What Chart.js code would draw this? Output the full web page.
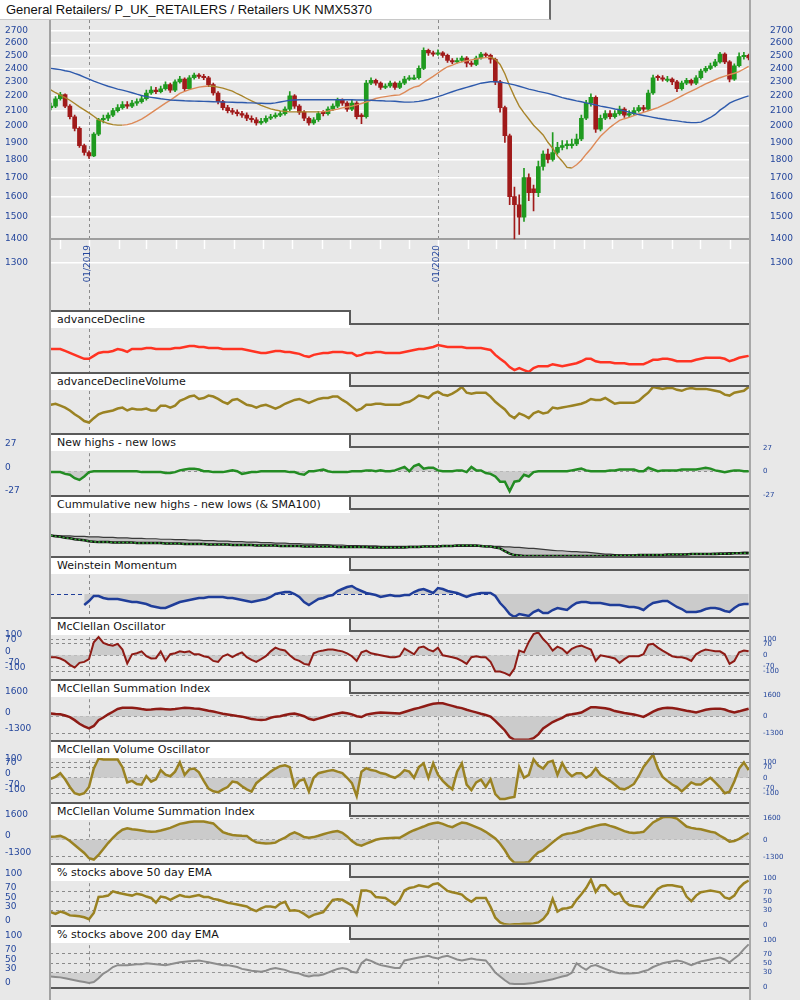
<!DOCTYPE html>
<html>
<head>
<meta charset="utf-8">
<script src="https://cdn.jsdelivr.net/npm/chart.js@4.4.1/dist/chart.umd.min.js"></script>
<style>
  html,body{margin:0;padding:0;}
  body{width:800px;height:1000px;background:#e8e8e8;position:relative;overflow:hidden;font-family:'DejaVu Sans',sans-serif;}
  canvas{position:absolute;left:0;}
  #title{position:absolute;left:0;top:0;width:551px;height:20px;background:#fff;border-right:2px solid #6a6a6a;border-bottom:1px solid #c8c8c8;font:13px 'Liberation Sans',Arial,sans-serif;line-height:20px;padding-left:6px;box-sizing:border-box;color:#111;white-space:nowrap;}
  .ptitle{position:absolute;left:50px;width:300px;height:17px;background:#fff;font:11px 'DejaVu Sans',sans-serif;line-height:18px;padding-left:7px;box-sizing:border-box;color:#151515;white-space:nowrap;}
  .ln{position:absolute;background:#5a5a5a;}
</style>
</head>
<body>
<div id="root"></div>
<script>
// ---------------- DATA ----------------
// samples every 5 calendar days, starting 2018-11-21 (day -41 relative to 2019-01-01)
const SERIES_START_DAY = -41;
const SERIES_STEP_DAYS = 5;
const X_MIN = -41.8, X_MAX = 690.4;   // 2018-11-20 .. 2020-11-21

const candleOpen = [
2120,2130,2180,2210,2130,2060,1985,1880,1840,1820,
1950,2040,2050,2070,2100,2120,2140,2130,2150,2160,
2180,2220,2240,2230,2250,2280,2240,2300,2320,2250,
2330,2350,2340,2330,2280,2220,2160,2120,2100,2090,
2080,2070,2050,2040,2020,2030,2050,2060,2070,2080,
2110,2200,2130,2090,2050,2020,2040,2090,2080,2110,
2130,2170,2150,2110,2150,2070,2060,2290,2310,2290,
2260,2270,2290,2260,2290,2320,2320,2330,2400,2540,
2520,2510,2520,2500,2460,2450,2460,2480,2440,2430,
2480,2510,2500,2470,2300,2120,1940,1600,1560,1500,
1700,1640,1620,1760,1830,1800,1840,1870,1880,1880,
1890,1920,2050,2150,2190,1980,2050,2080,2060,2080,
2110,2070,2080,2100,2120,2110,2220,2340,2330,2310,
2320,2300,2250,2290,2310,2290,2330,2380,2400,2420,
2450,2510,2450,2320,2420,2490,2500];
const candleHigh = [
2150,2195,2225,2215,2140,2070,1995,1890,1850,1960,
2050,2070,2085,2115,2140,2160,2160,2170,2180,2200,
2240,2265,2260,2270,2300,2290,2315,2340,2330,2345,
2365,2360,2355,2340,2290,2230,2170,2135,2115,2105,
2095,2085,2065,2055,2050,2065,2075,2085,2095,2125,
2230,2210,2140,2100,2060,2055,2095,2100,2125,2145,
2185,2180,2160,2170,2160,2080,2310,2330,2320,2300,
2285,2305,2300,2305,2340,2345,2350,2420,2560,2550,
2535,2545,2530,2510,2475,2480,2495,2490,2455,2495,
2525,2520,2510,2480,2310,2130,1950,1650,1610,1750,
1720,1660,1790,1850,1860,1960,1900,1910,1910,1920,
1950,2070,2170,2215,2200,2070,2100,2100,2100,2130,
2120,2100,2120,2135,2135,2240,2350,2350,2345,2340,
2330,2310,2305,2325,2320,2345,2395,2415,2440,2470,
2525,2520,2460,2435,2520,2525,2510];
const candleLow = [
2105,2120,2170,2120,2045,1970,1870,1825,1805,1815,
1940,2020,2035,2060,2090,2110,2115,2120,2135,2150,
2170,2210,2215,2220,2240,2225,2230,2290,2235,2245,
2320,2325,2315,2265,2205,2145,2105,2085,2075,2065,
2055,2035,2025,2005,2010,2020,2040,2050,2060,2070,
2100,2115,2075,2035,2005,2010,2030,2065,2070,2100,
2120,2135,2095,2100,2045,2015,2050,2280,2275,2245,
2250,2260,2245,2250,2280,2310,2315,2320,2390,2500,
2495,2500,2485,2445,2435,2440,2450,2410,2415,2420,
2470,2485,2440,2280,2090,1900,1560,1400,1420,1480,
1580,1530,1600,1740,1780,1790,1830,1855,1860,1865,
1880,1910,2040,2130,1960,1970,2040,2045,2050,2070,
2055,2060,2070,2090,2095,2100,2210,2310,2305,2300,
2280,2230,2240,2280,2275,2280,2320,2370,2390,2410,
2440,2435,2300,2310,2410,2470,2465];
const candleClose = [
2130,2180,2210,2130,2060,1985,1880,1840,1820,1950,
2040,2050,2070,2100,2120,2140,2130,2150,2160,2180,
2220,2240,2230,2250,2280,2240,2300,2320,2250,2330,
2350,2340,2330,2280,2220,2160,2120,2100,2090,2080,
2070,2050,2040,2020,2030,2050,2060,2070,2080,2110,
2200,2130,2090,2050,2020,2040,2080,2080,2110,2130,
2170,2150,2110,2150,2060,2060,2290,2310,2290,2260,
2270,2290,2260,2290,2320,2330,2330,2400,2540,2520,
2510,2520,2500,2460,2450,2460,2480,2440,2430,2480,
2510,2500,2470,2300,2120,1940,1600,1560,1500,1700,
1620,1620,1760,1830,1800,1840,1870,1880,1890,1890,
1920,2050,2150,2190,1980,2050,2080,2060,2080,2110,
2070,2080,2100,2120,2110,2220,2330,2330,2320,2320,
2300,2250,2290,2310,2290,2330,2380,2400,2420,2450,
2510,2450,2320,2420,2490,2500,2480];
const ma50 = [
2242,2222,2205,2188,2170,2148,2125,2105,2085,2063,
2040,2028,2016,2009,2006,2006,2009,2017,2030,2045,
2064,2085,2107,2128,2150,2170,2193,2217,2231,2244,
2253,2262,2266,2270,2268,2262,2255,2244,2234,2215,
2200,2182,2165,2150,2135,2123,2112,2104,2098,2095,
2092,2092,2092,2092,2092,2092,2092,2093,2097,2104,
2110,2118,2124,2130,2138,2148,2158,2170,2182,2190,
2195,2200,2204,2207,2225,2245,2262,2270,2295,2318,
2340,2365,2390,2412,2425,2440,2450,2458,2465,2472,
2479,2483,2486,2470,2430,2360,2270,2195,2130,2085,
2045,2005,1975,1945,1900,1865,1820,1790,1755,1752,
1770,1795,1830,1862,1900,1937,1965,1992,2015,2036,
2047,2056,2067,2078,2088,2099,2109,2120,2135,2150,
2165,2182,2200,2218,2233,2250,2268,2285,2300,2315,
2330,2342,2353,2363,2375,2395,2415];
const ma200 = [
2400,2395,2390,2382,2375,2362,2350,2335,2320,2305,
2292,2280,2268,2258,2248,2240,2232,2222,2212,2203,
2195,2190,2185,2180,2176,2172,2170,2168,2166,2165,
2164,2163,2162,2161,2160,2159,2158,2157,2156,2155,
2155,2153,2152,2150,2149,2148,2148,2152,2158,2164,
2170,2172,2173,2173,2173,2173,2173,2173,2173,2173,
2173,2173,2173,2173,2172,2172,2171,2170,2168,2167,
2165,2164,2163,2160,2157,2157,2159,2162,2168,2175,
2185,2195,2205,2218,2229,2240,2250,2260,2270,2280,
2290,2295,2300,2300,2298,2292,2285,2278,2268,2258,
2248,2240,2232,2225,2218,2208,2198,2188,2180,2173,
2166,2160,2152,2145,2138,2130,2124,2118,2111,2105,
2098,2090,2082,2074,2068,2062,2056,2050,2045,2040,
2036,2033,2028,2024,2022,2022,2025,2040,2055,2075,
2103,2125,2150,2165,2178,2190,2200];

const advanceDecline = [
49,49,49,45,41,37,33,29,29,35, 41,43,43,45,49,47,43,49,49,49,
51,51,49,49,49,49,51,51,53,55, 55,53,53,51,51,51,49,49,49,49,
49,47,45,43,41,41,43,45,45,43, 43,41,39,35,33,37,39,41,41,43,
43,43,41,41,35,37,41,41,43,43, 41,41,41,41,43,45,47,49,49,51,
53,57,55,53,53,53,53,51,51,51, 51,49,47,37,29,22,12,6,10,6,
2,10,14,14,14,18,16,14,16,18, 20,24,29,29,24,22,22,22,20,20,
20,18,18,18,18,22,27,27,29,29, 27,24,24,24,24,27,29,31,31,31,
31,29,24,27,31,33,35];
const advanceDeclineVolume = [
61,63,59,55,49,41,35,27,24,33, 41,45,47,49,53,55,49,53,51,51,
53,49,49,59,59,55,59,69,73,78, 80,73,75,80,78,73,67,63,71,73,
67,61,59,55,59,61,57,53,57,63, 67,71,73,69,65,69,73,75,75,78,
78,71,65,57,49,53,61,61,63,63, 61,61,61,61,65,67,73,80,78,75,
84,88,82,80,84,90,98,86,84,86, 86,86,78,67,59,51,39,33,43,39,
33,43,47,43,45,55,53,55,57,59, 61,63,67,73,71,71,75,69,63,65,
65,65,65,69,78,86,98,96,94,96, 96,92,90,94,96,94,94,94,92,90,
88,82,80,86,88,90,98];
const newHighsLows = [
-1,-1,-1,-3,-4,-8,-10,-6,-1,0, 0,0,0,0,0,0,0,0,0,-1,
-1,-1,-1,-1,-2,-2,-1,1,2,3, 3,2,0,0,-1,-1,-1,0,1,0,
-3,-2,-1,-1,0,0,0,0,0,0, -1,-1,-3,-4,0,0,1,2,0,-1,
-1,-1,-1,0,0,0,1,1,0,1, 0,0,1,3,5,0,6,8,3,4,
4,1,0,0,0,1,1,-1,5,1, 1,-2,-3,-6,-12,-12,-23,-12,-11,-4,
-6,-1,0,0,0,0,0,0,0,1, 2,3,1,0,0,0,0,1,1,2,
2,2,2,0,0,4,2,0,1,1, 1,1,2,2,2,2,3,4,3,1,
0,-1,0,1,1,0,0];
const cumNewHighsLows = [
45,43,42,40,39,37,36,35,33,32, 31,31,31,30,30,30,30,30,29,29,
29,29,29,29,28,28,28,28,27,27, 27,27,27,26,26,26,26,26,25,25,
25,25,25,24,24,24,24,24,23,23, 23,23,23,22,22,22,22,22,22,22,
21,21,21,21,21,21,21,20,20,20, 20,20,20,20,20,21,21,21,22,22,
22,22,23,23,23,24,24,24,24,24, 23,22,22,20,18,12,7,4,3,2,
2,2,2,2,2,2,2,2,2,2, 2,2,2,2,2,2,2,2,3,3,
3,3,3,4,4,4,4,4,4,5, 5,5,5,5,6,6,6,6,6,6,
7,7,7,8,8,8,8];
const cumNewHighsLowsSma100 = [
45,45,44,44,44,43,43,43,42,42, 42,41,41,41,40,40,40,39,39,39,
38,38,38,37,37,37,36,36,36,35, 35,35,34,34,34,33,33,33,32,32,
32,31,31,31,30,30,30,29,29,29, 28,28,28,27,27,27,26,26,26,25,
25,25,24,24,24,23,23,23,23,22, 22,22,22,22,22,22,22,22,22,22,
22,22,22,22,22,22,22,22,22,22, 22,22,22,22,22,21,21,20,20,19,
18,18,17,16,15,14,13,13,12,11, 11,10,10,9,8,7,6,6,5,4,
4,4,4,4,4,4,4,4,4,5, 5,5,5,6,6,6,7,7,7,8,
8,8,9,9,9,10,10];
const weinsteinMomentum = [
null,null,null,null,null,null,null,-11,-7,-2, -2,-4,-5,-5,-5,-6,-7,-8,-8,-9,
-10,-12,-13,-14,-14,-12,-10,-8,-7,-6, -5,-4,-4,-3,-3,-3,-3,-4,-4,-5,
-6,-7,-8,-7,-6,-5,-3,0,1,2, 2,0,-3,-8,-11,-8,-5,-4,-2,-1,
3,5,7,8,5,3,1,0,-1,-3, -2,-1,-2,-2,-1,-1,2,4,5,3,
1,6,5,3,2,1,-1,-3,-1,0, 1,1,1,-2,-9,-14,-20,-23,-20,-21,
-22,-18,-16,-19,-19,-16,-14,-15,-16,-12, -9,-8,-8,-9,-9,-9,-10,-11,-11,-11,
-12,-13,-13,-14,-16,-12,-9,-8,-7,-7, -10,-13,-15,-18,-18,-18,-17,-15,-14,-14,
-15,-17,-18,-14,-11,-10,-10];
const mcClellanOsc = [
-12,-12,-20,-35,-59,-76,-47,-41,-24,80, 112,76,65,59,70,35,-50,6,12,24,
-6,-20,-18,24,-35,6,12,24,18,24, 6,6,-6,-12,-35,-41,-6,6,-12,6,
18,-12,-29,-41,-24,-6,24,47,35,29, 0,-24,-35,-53,-59,12,24,29,35,35,
29,24,12,-6,-35,18,29,12,6,0, -6,-12,-12,-6,41,24,6,47,53,35,
24,47,0,-6,-12,-20,-35,-53,-12,-6, -12,-12,-41,-100,-100,-110,-124,-82,29,18,
82,130,141,100,70,29,53,40,12,40, 53,59,47,35,-35,0,-6,-12,-20,-47,
-24,-6,-6,-6,6,65,70,47,29,12, -6,-12,-12,-20,-35,6,24,35,30,24,
24,6,-53,-35,18,29,24];
const mcClellanSum = [
220,180,150,60,-70,-300,-580,-780,-940,-750, -300,-100,150,350,560,650,660,655,620,560,
509,530,560,582,550,520,560,610,650,640, 600,582,500,420,364,280,200,140,80,20,
-30,-120,-220,-260,-290,-260,-120,-30,0,100, 180,218,120,0,-200,-280,-180,-73,40,145,
220,291,230,145,0,-60,130,200,260,291, 280,260,240,218,330,450,560,650,760,870,
960,1010,1000,900,800,700,630,500,400,300, 190,100,-20,-350,-727,-1100,-1600,-1820,-1820,-1820,
-1820,-1700,-1400,-950,-700,-450,-280,-120,100,150, 220,290,500,700,690,660,620,540,400,330,
260,200,140,50,-50,150,360,520,620,650, 640,580,510,430,360,300,400,500,560,590,
590,520,380,300,380,480,580];
const mcClellanVolOsc = [
-6,6,30,-10,-60,-100,-110,-100,-60,60, 125,119,119,119,119,69,-30,-20,-40,-45,
10,-25,-10,50,20,10,40,100,19,55, 60,35,-20,-70,-88,-94,-75,-60,-25,-30,
-55,-75,-90,-35,-10,15,40,60,75,81, 69,-62,-20,-10,-88,0,30,38,45,50,
40,31,0,-35,-119,40,62,50,45,31, 25,10,0,19,50,40,0,70,94,0,
94,20,-20,-50,-75,40,94,-44,-80,-30, -12,-60,-10,-106,-138,-138,-130,-125,69,0,
19,120,80,60,100,110,19,95,40,10, 30,30,0,20,62,20,0,-20,-44,-70,
-75,-60,-40,10,70,110,150,62,6,-20, -44,-60,-88,-60,-30,-44,-44,-20,0,-30,
-62,-100,-90,-25,60,100,50];
const mcClellanVolSum = [
218,250,291,150,-100,-400,-700,-1000,-1400,-1500, -1150,-700,-250,150,500,760,873,800,750,700,
640,600,620,700,800,900,1050,1200,1270,1340, 1382,1382,1380,1300,1236,900,582,450,364,330,
300,291,0,-200,-250,-291,-260,-220,0,150, 400,560,400,200,160,200,300,420,520,600,
655,530,250,-100,-350,-450,-300,-150,0,80, 110,130,145,145,350,550,720,860,1000,1150,
1250,1300,1200,1050,950,1150,1300,1250,1100,950, 800,600,350,100,-300,-800,-1400,-1745,-1745,-1745,
-1700,-1300,-950,-800,-500,-200,100,350,450,500, 582,700,850,945,1050,1140,1164,1050,945,800,
650,550,509,540,600,950,1309,1500,1700,1745, 1700,1600,1300,1000,900,830,800,700,600,540,
300,100,-145,-100,73,300,509];
const pctAbove50Ema = [
27,23,28,25,20,19,18,16,12,25, 59,60,62,71,68,66,64,62,66,64,
60,57,47,60,58,53,58,63,60,59, 61,63,59,59,55,53,50,47,45,43,
41,39,33,29,35,39,39,37,45,49, 30,31,29,23,16,21,24,27,40,53,
54,53,47,41,22,73,73,70,59,58, 57,50,43,53,73,78,80,84,82,80,
86,88,80,72,69,67,64,55,49,57, 57,57,38,15,5,1,0,1,1,2,
2,3,5,12,25,55,28,34,35,38, 53,65,78,96,70,84,84,72,64,68,
50,42,40,39,37,50,63,76,82,84, 84,82,80,60,50,62,69,71,73,71,
69,58,55,62,78,88,94];
const pctAbove200Ema = [
22,21,20,18,16,14,12,10,8,10, 18,28,34,42,46,46,46,47,48,48,
50,49,48,47,46,48,50,52,53,54, 55,56,54,52,50,48,46,46,44,42,
38,36,34,33,32,34,38,40,38,36, 32,30,28,24,22,24,24,26,30,34,
38,40,38,32,30,50,58,55,50,46, 44,42,40,40,56,58,60,62,64,66,
62,60,64,66,62,58,56,58,60,58, 57,56,44,30,22,14,7,6,6,6,
7,8,10,12,14,16,19,22,24,30, 50,42,36,44,46,42,38,34,31,29,
28,28,29,30,33,36,42,46,50,52, 54,56,54,50,46,50,54,56,58,60,
62,58,52,60,68,80,90];

// tick values / labels
const priceTicks = [1300,1400,1500,1600,1700,1800,1900,2000,2100,2200,2300,2400,2500,2600,2700];
const monthTickDays = [-31,0,31,59,90,120,151,181,212,243,273,304,334,365,396,425,456,486,517,547,578,609,639,670];
const monthTickLabels = ['','01/2019','','','','','','','','','','','','01/2020','','','','','','','','','',''];
const nhnlTicks = [-27,0,27];
const oscTicks = [-100,-70,0,70,100];
const sumTicks = [-1300,0,1600];
const pctTicks = [0,30,50,70,100];

// ---------------- STYLE / LAYOUT ----------------
const LABEL = '#24469c';
const FILL = '#cbcbcb';
const OLIVE = '#9a8222';
const DARKRED = '#8e1b15';
const PANEL_TOPS = [311,373,434,496,557,618,680,741,803,864,926];
const LAST_BOTTOM = 988;
const JAN_DAYS = monthTickDays.filter((d, i) => monthTickLabels[i] !== '');

const root = document.getElementById('root');
const days = candleClose.map((_, i) => SERIES_START_DAY + i * SERIES_STEP_DAYS);
const xy = arr => arr.map((v, i) => ({x: days[i], y: v}));
const font9 = {family: 'DejaVu Sans', size: 9};

// ---------------- MAIN PRICE CHART ----------------
(function () {
  const cv = document.createElement('canvas');
  cv.width = 800; cv.height = 329; cv.style.top = '0px';
  root.appendChild(cv);
  const UP = '#1f9a1f', DOWN = '#a01a1a';
  const colors = candleClose.map((c, i) => c >= candleOpen[i] ? UP : DOWN);
  const yCommon = {type: 'logarithmic', min: 1113, max: 2796, bounds: 'data',
    afterBuildTicks: s => { s.ticks = priceTicks.map(v => ({value: v})); }};
  new Chart(cv, {
    type: 'bar',
    data: {datasets: [
      {type: 'line', data: xy(ma200), borderColor: '#2e5aac', borderWidth: 1.4, pointRadius: 0, order: 0},
      {type: 'line', data: xy(ma50), borderColor: '#a8842a', borderWidth: 1.4, pointRadius: 0, order: 0,
        segment: {borderColor: s => s.p1.parsed.y > s.p0.parsed.y ? '#dd8a58' : '#a8842a'}},
      {data: candleLow.map((l, i) => ({x: days[i], y: [l, candleHigh[i]]})), backgroundColor: colors,
        barThickness: 1, grouped: false, order: 2},
      {data: candleOpen.map((o, i) => ({x: days[i], y: [o, candleClose[i]]})), backgroundColor: colors,
        barThickness: 4, minBarLength: 1, grouped: false, order: 1}
    ]},
    options: {
      responsive: false, animation: false, events: [],
      layout: {padding: {left: 5, right: 0, top: 20, bottom: 8}},
      plugins: {legend: {display: false}, tooltip: {enabled: false}},
      scales: {
        x: {type: 'linear', min: X_MIN, max: X_MAX, bounds: 'data', offset: false, position: {y: 1400},
          afterBuildTicks: s => { s.ticks = monthTickDays.map(v => ({value: v})); },
          ticks: {autoSkip: false, maxRotation: 90, minRotation: 90, padding: -4, labelOffset: -2,
            color: LABEL, font: font9, callback: (v, i) => monthTickLabels[i]},
          grid: {offset: false, drawOnChartArea: true, drawTicks: true, tickLength: 10, tickWidth: 1.5,
            tickColor: '#ffffff', lineWidth: 1,
            color: c => (c.tick && JAN_DAYS.includes(c.tick.value)) ? '#8a8a8a' : 'rgba(0,0,0,0)'},
          border: {display: false, dash: [3, 3]}},
        y: Object.assign({}, yCommon, {position: 'left',
          afterFit: s => { s.width = 45; },
          ticks: {autoSkip: false, crossAlign: 'far', padding: 0, color: LABEL, font: font9, callback: v => String(v)},
          grid: {drawTicks: false,
            color: c => (c.tick && c.tick.value === 1400) ? '#9e9e9e' : '#ffffff',
            lineWidth: c => (c.tick && c.tick.value === 1400) ? 2 : 1.5},
          border: {display: false}}),
        y2: Object.assign({}, yCommon, {position: 'right',
          afterFit: s => { s.width = 50; },
          ticks: {autoSkip: false, padding: 12, color: LABEL, font: font9, callback: v => String(v)},
          grid: {display: false}, border: {display: false}})
      }
    }
  });
})();

// ---------------- INDICATOR PANELS ----------------
const panels = [
  {title: 'advanceDecline', lo: 0, hi: 100,
   series: [{data: advanceDecline, color: '#ff3322', width: 2.5}]},
  {title: 'advanceDeclineVolume', lo: 0, hi: 100,
   series: [{data: advanceDeclineVolume, color: OLIVE, width: 2.5}]},
  {title: 'New highs - new lows', lo: -27, hi: 27, ticks: nhnlTicks, grid: [0], gridColor: '#7a7a7a',
   series: [{data: newHighsLows, color: '#238c23', width: 2.5, fill: {target: {value: 0}, above: FILL, below: FILL}}]},
  {title: 'Cummulative new highs - new lows (& SMA100)', lo: 0, hi: 100,
   series: [
     {data: cumNewHighsLows, color: '#33aa33', width: 1.5, dash: [2, 2], order: 0},
     {data: cumNewHighsLows, color: '#151515', width: 2.5, order: 1},
     {data: cumNewHighsLowsSma100, color: '#3a3a3a', width: 1.2, order: 2, fill: {target: '-1', above: '#c2c2c2', below: '#c2c2c2'}}
   ]},
  {title: 'Weinstein Momentum', lo: -24, hi: 24, grid: [0], gridColor: '#1f3d99', gridDash: [4, 3],
   series: [{data: weinsteinMomentum, color: '#1f3d99', width: 2.5, fill: {target: {value: 0}, above: FILL, below: FILL}}]},
  {title: 'McClellan Oscillator', lo: -145, hi: 145, ticks: oscTicks, grid: oscTicks,
   series: [{data: mcClellanOsc, color: DARKRED, width: 2, fill: {target: {value: 0}, above: FILL, below: FILL}}]},
  {title: 'McClellan Summation Index', lo: -1820, hi: 1745, ticks: sumTicks, grid: sumTicks,
   series: [{data: mcClellanSum, color: DARKRED, width: 2.5, fill: {target: {value: 0}, above: FILL, below: FILL}}]},
  {title: 'McClellan Volume Oscillator', lo: -156, hi: 150, ticks: oscTicks, grid: oscTicks,
   series: [{data: mcClellanVolOsc, color: OLIVE, width: 2.5, fill: {target: {value: 0}, above: FILL, below: FILL}}]},
  {title: 'McClellan Volume Summation Index', lo: -1745, hi: 1745, ticks: sumTicks, grid: sumTicks,
   series: [{data: mcClellanVolSum, color: OLIVE, width: 2.5, fill: {target: {value: 0}, above: FILL, below: FILL}}]},
  {title: '% stocks above 50 day EMA', lo: 0, hi: 100, ticks: pctTicks, grid: [30, 50, 70],
   series: [{data: pctAbove50Ema, color: OLIVE, width: 2.5, fill: {target: {value: 30}, above: 'rgba(0,0,0,0)', below: '#d0d0d0'}}]},
  {title: '% stocks above 200 day EMA', lo: 0, hi: 100, ticks: pctTicks, grid: [30, 50, 70],
   series: [{data: pctAbove200Ema, color: '#8c8c8c', width: 2, fill: {target: {value: 30}, above: 'rgba(0,0,0,0)', below: '#d0d0d0'}}]}
];

const PAD = 8;
panels.forEach((p, k) => {
  const top = PANEL_TOPS[k];
  const bottom = k + 1 < PANEL_TOPS.length ? PANEL_TOPS[k + 1] : LAST_BOTTOM;
  const cv = document.createElement('canvas');
  cv.width = 800; cv.height = bottom - top + 2 * PAD; cv.style.top = (top - PAD) + 'px';
  root.appendChild(cv);
  const plotH = bottom - top - 13;
  const hiExt = p.hi + (p.hi - p.lo) * 13 / plotH;
  const tickVals = p.ticks || p.grid || [];
  const gridVals = p.grid || [];
  const showLabels = !!p.ticks;
  const datasets = p.series.map(s => ({
    data: xy(s.data), borderColor: s.color, borderWidth: s.width, pointRadius: 0, tension: 0,
    borderDash: s.dash || [], fill: s.fill || false, order: s.order || 0, spanGaps: false
  }));
  const yBase = {type: 'linear', min: p.lo, max: hiExt, bounds: 'data',
    afterBuildTicks: s => { s.ticks = tickVals.map(v => ({value: v})); }};
  new Chart(cv, {
    type: 'line',
    data: {datasets},
    options: {
      responsive: false, animation: false, events: [],
      layout: {padding: {left: 5, right: 0, top: PAD, bottom: PAD}},
      plugins: {legend: {display: false}, tooltip: {enabled: false}},
      scales: {
        x: {type: 'linear', min: X_MIN, max: X_MAX, bounds: 'data', offset: false,
          afterBuildTicks: s => { s.ticks = JAN_DAYS.map(v => ({value: v})); },
          ticks: {display: false}, grid: {drawTicks: false, color: '#8a8a8a', lineWidth: 1},
          border: {display: false, dash: [3, 3]}},
        y: Object.assign({}, yBase, {position: 'left',
          afterFit: s => { s.width = 45; },
          ticks: {display: showLabels, autoSkip: false, crossAlign: 'far', padding: 0, labelOffset: -4,
            color: LABEL, font: font9, callback: v => String(v)},
          grid: {drawTicks: false, lineWidth: 1,
            color: c => (c.tick && gridVals.includes(c.tick.value)) ? (p.gridColor || '#8a8a8a') : 'rgba(0,0,0,0)'},
          border: {display: false, dash: p.gridDash || [3, 3]}}),
        y2: Object.assign({}, yBase, {position: 'right',
          afterFit: s => { s.width = 50; },
          ticks: {display: showLabels, autoSkip: false, padding: 5, color: LABEL,
            font: {family: 'DejaVu Sans', size: 7}, callback: v => String(v)},
          grid: {display: false}, border: {display: false}})
      }
    }
  });
});

// ---------------- DECORATION (frames, headers) ----------------
function div(cls, css, text) {
  const d = document.createElement('div');
  d.className = cls; Object.assign(d.style, css);
  if (text) d.textContent = text;
  root.appendChild(d); return d;
}
panels.forEach((p, k) => {
  const top = PANEL_TOPS[k];
  const bottom = k + 1 < PANEL_TOPS.length ? PANEL_TOPS[k + 1] : LAST_BOTTOM;
  div('ptitle', {top: top + 'px'}, p.title);
  div('ln', {left: '50px', top: (top - 1) + 'px', width: '300px', height: '2px'});
  div('ln', {left: '349px', top: (top - 1) + 'px', width: '2px', height: '15px'});
  div('ln', {left: '349px', top: (top + 12) + 'px', width: '401px', height: '2px'});
  div('ln', {left: '50px', top: (bottom - 1) + 'px', width: '700px', height: '2px'});
});
div('ln', {left: '49px', top: '20px', width: '2px', height: '980px', background: '#a2a2a2'});
div('ln', {left: '749px', top: '0px', width: '2px', height: '1000px', background: '#a8a8a8'});
const t = document.createElement('div');
t.id = 'title'; t.textContent = 'General Retailers/ P_UK_RETAILERS / Retailers UK NMX5370';
root.appendChild(t);
</script>
</body>
</html>
